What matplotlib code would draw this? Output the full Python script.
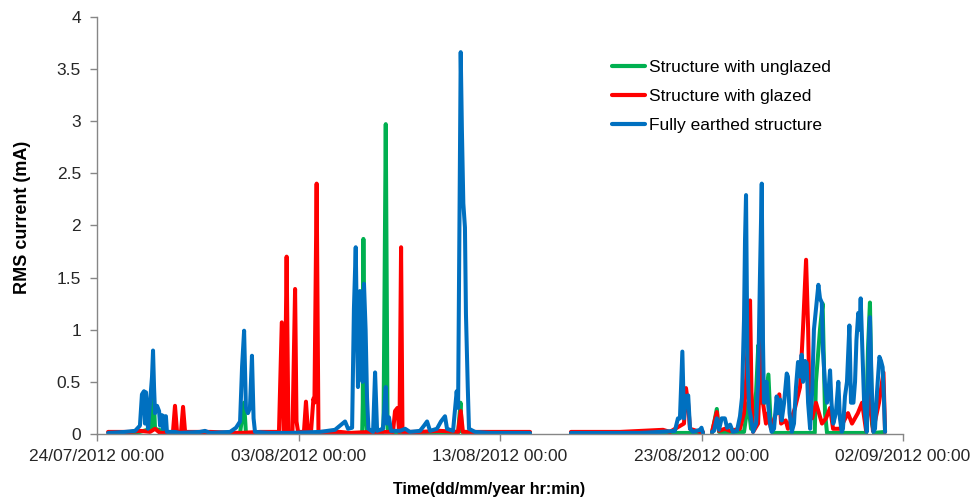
import numpy as np
import matplotlib
matplotlib.use("Agg")
import matplotlib.pyplot as plt
import matplotlib.dates as mdates
from datetime import datetime

# Days since 24/07/2012 00:00 and RMS current (mA); NaN marks gaps in the logging
unglazed_days = [0.65, 2.13, 2.68, 2.78, 2.88, 3.62, 7.10, 7.30, 7.39, 12.56, 13.16, 13.19,
                 13.22, 13.27, 13.40, 14.14, 14.22, 14.33, 14.42, 14.79, 17.92, 18.04, 18.11,
                 21.49,
                 22.5,
                 23.52, 30.07,
                 30.3,
                 30.52, 30.62, 30.76, 30.87, 32.11, 32.31, 32.46, 32.71, 32.82, 32.90,
                 33.15, 33.32, 33.43, 33.55, 35.62, 35.68, 35.88, 36.01,
                 36.13, 36.23, 38.17, 38.26, 38.36, 38.46, 38.56, 39.11]
unglazed_ma = [0.01, 0.02, 0.05, 0.50, 0.05, 0.01, 0.01, 0.30, 0.01, 0.01, 0.01, 0.30,
               1.87, 0.30, 0.01, 0.01, 0.10, 2.97, 0.05, 0.01, 0.01, 0.30, 0.02,
               0.01,
               np.nan,
               0.01, 0.01,
               np.nan,
               0.01, 0.10, 0.24, 0.02, 0.02, 0.30, 0.05, 0.40, 0.85, 0.30,
               0.30, 0.57, 0.10, 0.01, 0.01, 0.50, 1.00, 1.25,
               0.20, 0.01, 0.01, 0.80, 1.26, 0.10, 0.01, 0.02]

glazed_days = [0.55, 1.64, 2.13, 2.63, 2.88, 3.13, 3.77, 3.87, 3.97, 4.17, 4.27, 4.37,
               5.61, 7.10, 8.09, 9.03, 9.17, 9.26, 9.31, 9.41, 9.50, 9.70, 9.83, 9.90,
               9.98, 10.27, 10.37, 10.47, 10.62, 10.74, 10.79, 10.90, 10.99, 12.06, 12.56,
               13.55, 14.69, 14.79, 14.91, 14.99, 15.01, 15.09, 15.16, 16.03, 17.02,
               17.92, 18.05, 18.16, 19.50, 21.49,
               22.5,
               23.52, 25.96, 28.09, 28.43, 29.13, 29.23, 29.33, 29.43, 29.92, 30.07,
               30.3,
               30.52, 30.62, 30.76, 30.87, 31.16, 31.42, 31.91, 32.11, 32.21, 32.31,
               32.41, 32.48, 32.56, 32.81, 32.90, 32.99, 33.05, 33.20, 33.30, 33.45,
               33.70, 33.86, 33.95, 34.18, 34.29, 34.64, 34.89, 35.04, 35.19, 35.29,
               35.36, 35.49, 35.68, 35.83, 35.98, 36.18, 36.38, 36.53, 36.87, 37.27,
               37.47, 37.76, 37.97, 38.17, 38.36, 38.51, 38.81, 39.03, 39.11]
glazed_ma = [0.02, 0.02, 0.03, 0.02, 0.05, 0.01, 0.02, 0.27, 0.02, 0.02, 0.26, 0.02,
             0.02, 0.01, 0.02, 0.02, 1.07, 0.02, 0.02, 1.70, 0.02, 0.02, 1.39, 0.12,
             0.02, 0.02, 0.31, 0.02, 0.02, 0.34, 0.30, 2.40, 0.02, 0.02, 0.01,
             0.02, 0.02, 0.22, 0.25, 0.02, 0.02, 1.79, 0.02, 0.02, 0.03,
             0.02, 0.22, 0.02, 0.02, 0.02,
             np.nan,
             0.02, 0.02, 0.04, 0.02, 0.10, 0.44, 0.30, 0.05, 0.02, 0.02,
             np.nan,
             0.02, 0.10, 0.21, 0.03, 0.05, 0.03, 0.05, 0.20, 0.50, 0.96,
             1.28, 0.40, 0.02, 0.10, 0.60, 1.81, 0.30, 0.10, 0.20, 0.05,
             0.20, 0.38, 0.10, 0.13, 0.05, 0.25, 0.45, 1.02, 1.67, 1.02,
             0.30, 0.15, 0.30, 0.20, 0.10, 0.15, 0.25, 0.05, 0.05, 0.20,
             0.10, 0.20, 0.30, 0.03, 0.40, 0.03, 0.30, 0.59, 0.02]

earthed_days = [0.55, 1.39, 1.89, 2.13, 2.23, 2.33, 2.38, 2.43, 2.53, 2.63, 2.73, 2.78,
                2.83, 2.88, 2.98, 3.08, 3.13, 3.23, 3.28, 3.37, 3.42, 3.47, 3.87, 4.12,
                5.11, 5.36, 5.61, 6.60, 6.90, 7.10, 7.20, 7.30, 7.39, 7.49, 7.59, 7.69,
                7.77, 7.84, 8.59, 9.58, 11.07, 11.81, 12.06, 12.31, 12.46, 12.66, 12.75,
                12.84, 12.90, 12.95, 13.05, 13.13, 13.18, 13.25, 13.33, 13.40, 13.47,
                13.70, 13.80, 13.90, 14.19, 14.33, 14.39, 14.49, 14.59, 15.04, 15.29,
                15.53, 16.03, 16.23, 16.38, 16.53, 16.87, 17.07, 17.27, 17.37, 17.67,
                17.85, 17.92, 18.05, 18.11, 18.18, 18.26, 18.31, 18.40, 18.46, 18.76,
                19.50, 20.50, 21.49,
                22.5,
                23.52, 24.96, 26.95, 27.94, 28.68, 28.83, 28.93, 29.05, 29.13, 29.23,
                29.34, 29.43, 29.58, 29.92, 30.00, 30.07,
                30.3,
                30.52, 30.62, 30.76, 30.87, 31.00, 31.16, 31.27, 31.42, 31.56, 31.76,
                31.91, 32.01, 32.11, 32.16, 32.21, 32.28, 32.36, 32.46, 32.56, 32.71,
                32.81, 32.90, 32.99, 33.05, 33.10, 33.15, 33.23, 33.30, 33.40, 33.48,
                33.60, 33.73, 33.80, 33.90, 33.98, 34.10, 34.23, 34.29, 34.37, 34.48,
                34.59, 34.69, 34.79, 34.89, 34.97, 35.04, 35.14, 35.22, 35.29, 35.39,
                35.49, 35.58, 35.68, 35.80, 35.88, 35.97, 36.03, 36.13, 36.23, 36.30,
                36.38, 36.45, 36.54, 36.67, 36.79, 36.87, 36.96, 37.02, 37.12, 37.22,
                37.34, 37.42, 37.54, 37.62, 37.69, 37.78, 37.84, 37.90, 37.97, 38.07,
                38.20, 38.26, 38.31, 38.36, 38.44, 38.53, 38.61, 38.71, 38.83, 38.91,
                38.99, 39.06, 39.11]
earthed_ma = [0.01, 0.02, 0.03, 0.08, 0.38, 0.41, 0.10, 0.40, 0.05, 0.30, 0.55, 0.80,
              0.45, 0.20, 0.27, 0.22, 0.08, 0.18, 0.05, 0.17, 0.17, 0.02, 0.02, 0.01,
              0.02, 0.03, 0.01, 0.02, 0.06, 0.12, 0.65, 0.99, 0.25, 0.20, 0.25, 0.75,
              0.15, 0.02, 0.01, 0.01, 0.02, 0.04, 0.08, 0.12, 0.05, 0.06, 1.20,
              1.79, 1.00, 0.45, 1.37, 0.90, 0.50, 1.44, 1.00, 0.35, 0.05,
              0.02, 0.59, 0.03, 0.05, 0.45, 0.10, 0.16, 0.03, 0.03, 0.05,
              0.02, 0.03, 0.08, 0.12, 0.03, 0.05, 0.12, 0.17, 0.05, 0.03,
              0.41, 0.25, 3.66, 2.90, 2.21, 1.98, 1.15, 0.45, 0.05, 0.02,
              0.01, 0.01, 0.01,
              np.nan,
              0.01, 0.01, 0.01, 0.02, 0.03, 0.15, 0.15, 0.79, 0.15, 0.36,
              0.37, 0.05, 0.02, 0.04, 0.06, 0.01,
              np.nan,
              0.02, 0.03, 0.15, 0.04, 0.15, 0.15, 0.06, 0.09, 0.02, 0.03,
              0.17, 0.35, 1.10, 1.86, 2.29, 0.70, 0.25, 0.15, 0.02, 0.10,
              0.50, 1.50, 2.40, 0.90, 0.30, 0.45, 0.50, 0.30, 0.10, 0.02,
              0.05, 0.36, 0.20, 0.33, 0.13, 0.30, 0.58, 0.55, 0.20, 0.02,
              0.10, 0.45, 0.69, 0.55, 0.76, 0.50, 0.70, 0.68, 0.30, 0.05,
              0.40, 1.00, 1.20, 1.43, 1.30, 1.26, 0.80, 0.47, 0.30, 0.40,
              0.61, 0.30, 0.10, 0.20, 0.50, 0.15, 0.02, 0.05, 0.36, 0.50,
              1.04, 0.30, 0.30, 0.50, 0.90, 1.16, 1.00, 1.30, 0.90, 0.30,
              0.02, 0.40, 0.90, 1.12, 0.50, 0.02, 0.05, 0.40, 0.74, 0.70,
              0.64, 0.30, 0.02]

series = [
    ("Structure with unglazed", unglazed_days, unglazed_ma, "#00B050"),
    ("Structure with glazed", glazed_days, glazed_ma, "#FF0000"),
    ("Fully earthed structure", earthed_days, earthed_ma, "#0070C0"),
]

start = mdates.date2num(datetime(2012, 7, 24))
tick_days = [0, 10, 20, 30, 40]

plt.rcParams['font.family'] = ['Liberation Sans', 'DejaVu Sans']

fig = plt.figure(figsize=(9.76, 5.04), dpi=100)
ax = fig.add_axes([0.0994, 0.1389, 0.8258, 0.828])

for name, days, vals, col in series:
    ax.plot(start + np.array(days), vals, color=col, lw=2.9, label=name,
            solid_joinstyle='round', solid_capstyle='round')

ax.set_xlim(start, start + 40)
ax.set_ylim(0, 4)
ax.set_xticks([start + d for d in tick_days])
ax.xaxis.set_major_formatter(mdates.DateFormatter('%d/%m/%Y %H:%M'))
ax.set_yticks(np.arange(0, 4.01, 0.5))
ax.set_yticklabels(['0', '0.5', '1', '1.5', '2', '2.5', '3', '3.5', '4'])

for side in ['top', 'right']:
    ax.spines[side].set_visible(False)
for side in ['left', 'bottom']:
    ax.spines[side].set_color('#868686')
    ax.spines[side].set_linewidth(1.0)
ax.tick_params(axis='both', colors='#868686', labelcolor='#262626',
               length=5, width=1.0, labelsize=12.5)
ax.tick_params(axis='x', pad=6)
ax.tick_params(axis='y', pad=6.5)

ax.set_ylabel('RMS current (mA)', fontsize=13, fontweight='bold', color='#000000')
ax.yaxis.set_label_coords(-0.082, 0.518)
ax.set_xlabel('Time(dd/mm/year hr:min)', fontsize=11.5, fontweight='bold', color='#000000')
ax.xaxis.set_label_coords(0.486, -0.115)

leg = ax.legend(loc='upper left', bbox_to_anchor=(0.630, 0.913), frameon=False,
                fontsize=12.5, handlelength=1.9, handletextpad=0.25, labelspacing=0.8,
                borderaxespad=0)
for line in leg.get_lines():
    line.set_linewidth(3)

fig.savefig('out.png', dpi=100)
